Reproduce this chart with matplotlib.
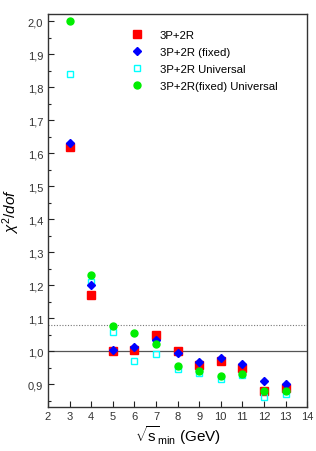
import matplotlib
matplotlib.use('Agg')
import matplotlib.pyplot as plt
from matplotlib.ticker import MultipleLocator, FuncFormatter

plt.rcParams['font.family'] = ['Liberation Sans', 'DejaVu Sans']
plt.rcParams['mathtext.fontset'] = 'custom'
plt.rcParams['mathtext.rm'] = 'Liberation Sans'
plt.rcParams['mathtext.it'] = 'Liberation Sans:italic'

# sqrt(s_min) values (GeV)
s_min = [3, 4, 5, 6, 7, 8, 9, 10, 11, 12, 13]

# chi^2/dof for each fit
fit_3p2r = [1.62, 1.17, 1.000, 1.003, 1.050, 1.000, 0.960, 0.970, 0.950, 0.880, 0.890]
fit_3p2r_fixed = [1.63, 1.20, 1.005, 1.012, 1.035, 0.994, 0.969, 0.980, 0.961, 0.910, 0.902]
fit_3p2r_univ = [1.84, 1.21, 1.060, 0.972, 0.993, 0.946, 0.935, 0.915, 0.927, 0.862, 0.870]
fit_3p2r_fixed_univ = [2.00, 1.23, 1.078, 1.057, 1.022, 0.957, 0.939, 0.925, 0.931, 0.879, 0.880]

labels = ['3P+2R', '3P+2R (fixed)', '3P+2R Universal', '3P+2R(fixed) Universal']

fig = plt.figure(figsize=(3.16, 4.52), dpi=100)
ax = fig.add_axes([0.152, 0.097, 0.82, 0.87])

ax.axhline(1.0, color='#555555', lw=0.9, zorder=1)
ax.axhline(1.08, color='#777777', lw=0.8, ls=(0, (1, 1.5)), zorder=1)

ax.plot(s_min, fit_3p2r, 's', color='#ff0000', ms=5.5, mec='#ff0000', ls='none', label=labels[0], zorder=3)
ax.plot(s_min, fit_3p2r_fixed, 'D', color='#0000ff', ms=4.5, mec='#0000ff', ls='none', label=labels[1], zorder=4)
ax.plot(s_min, fit_3p2r_univ, 's', mfc='none', mec='#00ffff', mew=1.0, ms=5, ls='none', label=labels[2], zorder=3)
ax.plot(s_min, fit_3p2r_fixed_univ, 'o', color='#00ee00', mec='#00ee00', ms=5, ls='none', label=labels[3], zorder=5)

ax.set_xlim(2, 14)
ax.set_ylim(0.831, 2.022)
ax.xaxis.set_major_locator(MultipleLocator(1))
ax.yaxis.set_major_locator(MultipleLocator(0.1))
ax.yaxis.set_minor_locator(MultipleLocator(0.05))
ax.yaxis.set_major_formatter(FuncFormatter(lambda v, p: f'{v:.1f}'.replace('.', ',')))

ax.tick_params(axis='both', which='major', direction='in', length=4, width=0.8,
               labelsize=8, colors='#222222', labelcolor='#333333')
ax.tick_params(axis='y', which='minor', direction='in', length=2, width=0.8, colors='#222222')
ax.tick_params(axis='x', pad=3)
for sp in ax.spines.values():
    sp.set_color('#333333')
    sp.set_linewidth(1.0)

ax.set_ylabel(r'$\chi^2/dof$', fontsize=11, labelpad=4)
ax.set_xlabel(r'$\sqrt{\mathrm{s}}_{\mathrm{min}}$ (GeV)', fontsize=11, labelpad=1)

ax.legend(loc='upper left', bbox_to_anchor=(0.305, 0.970), frameon=False, fontsize=8.2,
          handletextpad=1.45, labelspacing=0.62, handlelength=1.0, borderaxespad=0)

fig.savefig('out.png', dpi=100)
